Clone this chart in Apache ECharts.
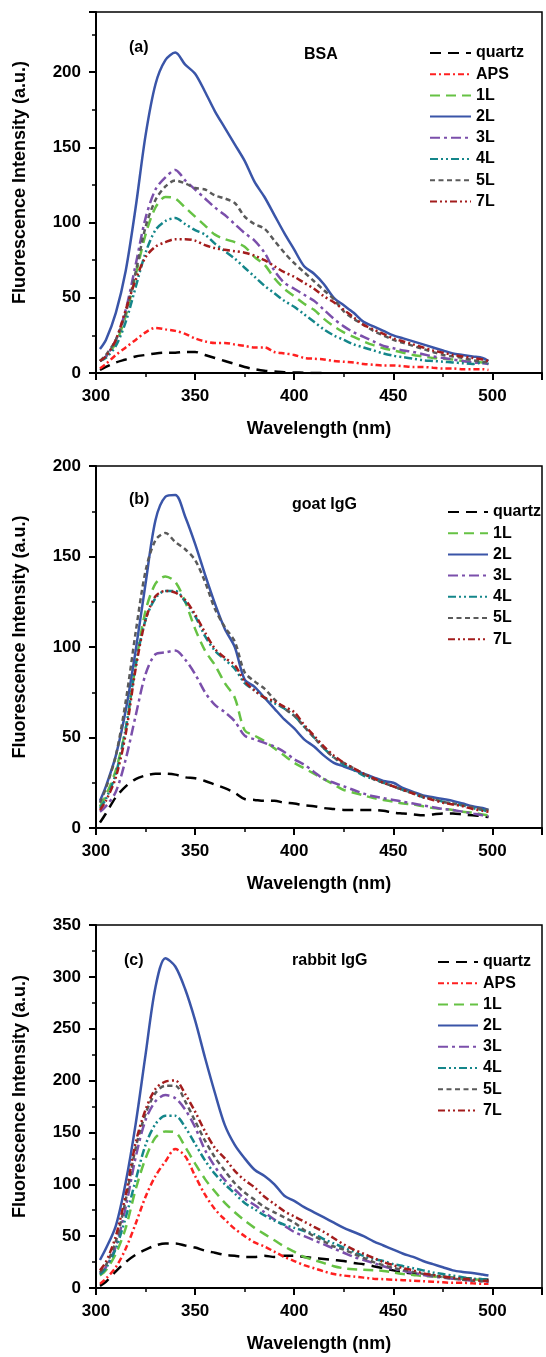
<!DOCTYPE html>
<html><head><meta charset="utf-8">
<script src="https://cdn.jsdelivr.net/npm/echarts/dist/echarts.min.js"></script>
<style>html,body{margin:0;padding:0;background:#fff}#c{width:546px;height:1357px}</style>
</head><body><div id="c"></div>
<script>
// ---- data ----
const wavelengths = [302,305,310,315,320,325,330,335,340,345,350,355,360,365,370,375,380,385,390,395,400,405,410,415,420,425,430,435,440,445,450,455,460,465,470,475,480,485,490,495,498];
const xTickLabels = [300,350,400,450,500];

// panel (a) BSA
const quartzA = [2,4,7,9,11,12,13,13.5,13.5,14,14,12,10,8,6,4,2.5,1.5,1,0.5,0.3,0.2,0,0,null,null,null,null,null,null,null,null,null,null,null,null,null,null,null,null,null];
const apsA = [3,6,12,17,22,27,30,29,28,26,23,21,20,20,19,18,17,17,14,13,12,10,9.5,9,8,7.5,7,6,5.5,5,5,4.5,4,4,3.5,3,3,2.5,2.5,2.5,2];
const l1A = [8,11,20,38,65,92,110,117,116,110,104,98,92,89,87,84,77,72,63,56,51,46,42,36,31,27,24,21,18.5,16.5,15,13.5,12,11,10,9.5,9,8,7.5,7,7];
const l2A = [16,22,40,68,110,158,192,208,213,205,199,187,174,163,152,141,127,117,105,93,82,71,66,59,50,45,40,34,31,28,25,23,21,19,17,15,13,12,11,10,8];
const l3A = [8,11,22,42,72,103,122,130,135,128,122,116,110,105,99,93,88,80,68,60,56,52,48,42,36,31,27,24,21,18,16.5,15,14,12.5,11,10,9,8,7,6.5,6];
const l4A = [8,10,18,34,57,80,95,101,103,99,95,92,86,81,76,70,64,58,53,48,44,39,34,29,25,22,19,17,15,13,11.5,10.5,9.5,8.5,8,7.5,7,6.5,6,7,6];
const l5A = [8,12,22,40,67,97,115,124,128,126,123,122,118,116,113,104,99,96,88,80,73,67,61,55,49,41,36,32,28,25,22,20,18,16,14,12,11,10,8.5,7.5,7];
const l7A = [8,11,22,42,62,77,84,87,89,89,88,85,83,82,81,80,78,75,71,67,64,60,56,51,47,42,37,32,29,26,23,21,19,17,15,13.5,12,11,10,9,8];

// panel (b) goat IgG
const quartzB = [3,8,17,23,27,29,30,30,29.5,28,27.5,26,24,22,19.5,16,15.5,15,15,14,13.5,12.5,12,11,10.5,10,10,10,10,9.5,8.5,8,7.5,7,7.5,8,8,7.5,7,6.5,6];
const l1B = [12,18,32,55,90,120,135,139,136,125,110,98,90,80,72,54,51,48,44,40,36,33,30,27,24,21,19.5,18,16.5,15.5,14.5,13.5,13,12,11,10.5,10,9,8.5,7.5,7];
const l2B = [15,23,40,65,98,135,170,183,184,172,157,140,124,110,100,82,78,72,66,60,55,49,45,40,36,34,32,30,28,26,25,22,20,18,17,16,15,13.5,12,11,10];
const l3B = [9,12,20,38,62,85,96,97,98,93,85,75,68,64,59,51,49,47,45,42,38,35,31,27,25,23,21,19,17.5,16.5,15.5,14.5,13.5,12.5,11.5,10.5,10,9,8,7,6.5];
const l4B = [11,16,30,55,90,115,127,131,131,125,117,106,98,93,88,80,76,72,69,66,62,56,50,44,39,35,32,29,27,25,23,21,19,17,16,14.5,13.5,12.5,11,10,9];
const l5B = [14,22,40,70,108,142,159,163,158,154,148,136,121,111,103,86,81,77,71,66,62,56,50,44,39,36,33,30,27,25,23,21,19.5,17.5,16,14.5,13.5,12.5,11.5,10.5,10];
const l7B = [10,15,28,52,88,115,128,131,130,126,118,108,99,94,90,81,76,72,70,67,64,57,51,45,40,36,33,30,27.5,25,23,21,19,17,15.5,14,13,12,10.5,9.5,9];

// panel (c) rabbit IgG
const quartzC = [2,6,16,25,32,37,41,43,43,41,39,36,34,32,31,30,30,31,30,31,31,30,29,28,27,26,24,23,21,19,17,15,14,13,12,11,10,9.5,9,8.5,8];
const apsC = [4,9,20,38,62,88,108,122,134,127,108,90,76,66,57,50,44,40,35,30,26,22,19,16,13.5,12,11,10,9,8.5,8,7.5,7,6.5,6,5.5,5,5,4.5,4,4];
const l1C = [12,17,33,58,95,125,145,151,150,136,120,105,93,82,73,65,58,52,46,40,35,30,27,24,21,19,18,17.5,17,16.5,15,13.5,12.5,11.5,11,10.5,10,9,8.5,8,8];
const l2C = [27,38,60,102,158,225,290,318,310,288,258,222,188,157,138,125,114,108,100,89,84,78,73,68,63,58,54,50,45,41,37,33,30,26,23,20,17,15.5,14.5,13,12];
const l3C = [14,20,40,78,126,162,180,186,183,172,155,133,117,104,95,86,80,73,66,60,54,50,46,42,38,34,30,27,24,21,18.5,16.5,14.5,12.5,11,10,9,8,7,6.5,6];
const l4C = [13,19,38,68,104,138,158,166,166,155,139,123,110,100,91,82,76,70,65,61,58,55,52,47,43,39,35,31,28,26,23,21,19,17,15,13.5,12,10.5,9,8.5,8];
const l5C = [15,22,45,85,135,168,188,195,195,180,161,142,126,113,101,92,85,78,73,68,63,56,50,45,40,37,33,29,25,22,19.5,17.5,15.5,13.5,12,10.5,9,8,7,6.5,6];
const l7C = [17,25,50,90,140,172,192,199,200,187,170,151,135,125,113,104,97,88,81,74,69,64,59,54,48,42,37,33,29,25,22,19,17,14,12.5,11,10,9,8,7,7];

const legendNamesA = ['quartz','APS','1L','2L','3L','4L','5L','7L'];
const legendNamesB = ['quartz','1L','2L','3L','4L','5L','7L'];
const legendNamesC = ['quartz','APS','1L','2L','3L','4L','5L','7L'];

// ---- styles ----
const FONT = '"Liberation Sans", Arial, Helvetica, sans-serif';
const lineStyles = {
  'quartz': {color:'#000000', type:[11,7], width:2.5},
  'APS':    {color:'#ff2020', type:[6,3,2,3], width:2.5},
  '1L':     {color:'#66c244', type:[10,6], width:2.5},
  '2L':     {color:'#3a55a8', type:'solid', width:2.5},
  '3L':     {color:'#7b4fab', type:[10,4,3,4], width:2.5},
  '4L':     {color:'#14868a', type:[8,3,2,3,2,3], width:2.5},
  '5L':     {color:'#5a5a5a', type:[5,3.5], width:2.5},
  '7L':     {color:'#a31d1d', type:[7,3,2,3,2,3], width:2.5}
};

const panels = [
  {grid:{left:96, top:12, width:446, height:361}, yMax:240,
   series:{'quartz':quartzA,'APS':apsA,'1L':l1A,'2L':l2A,'3L':l3A,'4L':l4A,'5L':l5A,'7L':l7A},
   legendNames:legendNamesA, legend:{left:429, top:45, itemWidth:41},
   tag:{text:'(a)', x:129, y:48}, title:{text:'BSA', x:304, y:55}},
  {grid:{left:96, top:466, width:446, height:362}, yMax:200,
   series:{'quartz':quartzB,'1L':l1B,'2L':l2B,'3L':l3B,'4L':l4B,'5L':l5B,'7L':l7B},
   legendNames:legendNamesB, legend:{left:447, top:504, itemWidth:40},
   tag:{text:'(b)', x:129, y:500}, title:{text:'goat IgG', x:292, y:505}},
  {grid:{left:96, top:925, width:446, height:363}, yMax:350,
   series:{'quartz':quartzC,'APS':apsC,'1L':l1C,'2L':l2C,'3L':l3C,'4L':l4C,'5L':l5C,'7L':l7C},
   legendNames:legendNamesC, legend:{left:437, top:954, itemWidth:40},
   tag:{text:'(c)', x:124, y:961}, title:{text:'rabbit IgG', x:292, y:961}}
];

const grids = [], xAxes = [], yAxes = [], series = [], legends = [], graphics = [];
const labelStyle = {fontSize:17, fontWeight:'bold', color:'#000', fontFamily:FONT};
const nameStyle = {fontSize:18, fontWeight:'bold', color:'#000', fontFamily:FONT};

panels.forEach((p, i) => {
  grids.push(Object.assign({show:true, borderColor:'#000', borderWidth:1.5, backgroundColor:'transparent', containLabel:false, outerBoundsMode:'none'}, p.grid));
  // major x
  xAxes.push({type:'value', gridIndex:i, min:300, max:525, interval:50, position:'bottom',
    axisLine:{onZero:false, lineStyle:{color:'#000', width:2}},
    axisTick:{inside:false, length:7, lineStyle:{color:'#000', width:2}},
    axisLabel:Object.assign({margin:15, formatter:v => (xTickLabels.indexOf(v) >= 0 ? String(v) : '')}, labelStyle),
    splitLine:{show:false},
    name:'Wavelength (nm)', nameLocation:'middle', nameGap:47, nameTextStyle:nameStyle});
  // minor x
  xAxes.push({type:'value', gridIndex:i, min:300, max:525, interval:25, position:'bottom',
    axisLine:{show:false, onZero:false}, axisTick:{length:4, lineStyle:{color:'#000', width:1.5}},
    axisLabel:{show:false}, splitLine:{show:false}});
  // major y
  yAxes.push({type:'value', gridIndex:i, min:0, max:p.yMax, interval:50, position:'left',
    axisLine:{onZero:false, lineStyle:{color:'#000', width:2}},
    axisTick:{inside:false, length:7, lineStyle:{color:'#000', width:2}},
    axisLabel:Object.assign({margin:15, formatter:v => (v % 50 === 0 ? String(v) : '')}, labelStyle),
    splitLine:{show:false},
    name:'Fluorescence Intensity (a.u.)', nameLocation:'middle', nameGap:67,
    nameTextStyle:Object.assign({padding:[0,0,0,20]}, nameStyle)});
  // minor y
  yAxes.push({type:'value', gridIndex:i, min:0, max:p.yMax, interval:25, position:'left',
    axisLine:{show:false, onZero:false}, axisTick:{length:4, lineStyle:{color:'#000', width:1.5}},
    axisLabel:{show:false}, splitLine:{show:false}});

  Object.keys(p.series).forEach(name => {
    const vals = p.series[name];
    const st = lineStyles[name];
    series.push({type:'line', name:name, xAxisIndex:2*i, yAxisIndex:2*i,
      data: wavelengths.map((w, k) => [w, vals[k]]).filter(d => d[1] !== null && d[1] !== undefined),
      symbol:'none', showSymbol:false, silent:true, animation:false, smooth:0.3,
      lineStyle:{color:st.color, width:st.width, type:st.type},
      itemStyle:{color:st.color}, emphasis:{disabled:true}});
  });

  legends.push({orient:'vertical', left:p.legend.left, top:p.legend.top, padding:0,
    itemWidth:p.legend.itemWidth, itemHeight:12, itemGap:5.2, selectedMode:false,
    itemStyle:{color:'rgba(0,0,0,0)', borderWidth:0, opacity:0},
    data:p.legendNames, textStyle:{fontSize:16, fontWeight:'bold', color:'#000', fontFamily:FONT, lineHeight:16}});

  [p.tag, p.title].forEach(t => {
    graphics.push({type:'text', x:t.x, y:t.y, silent:true,
      style:{text:t.text, fontSize:16, fontWeight:'bold', fontFamily:FONT, fill:'#000', align:'left', verticalAlign:'middle'}});
  });
});

const chart = echarts.init(document.getElementById('c'), null, {renderer:'canvas'});
chart.setOption({
  animation:false,
  backgroundColor:'#fff',
  grid:grids, xAxis:xAxes, yAxis:yAxes, series:series, legend:legends, graphic:graphics
});
</script></body></html>
